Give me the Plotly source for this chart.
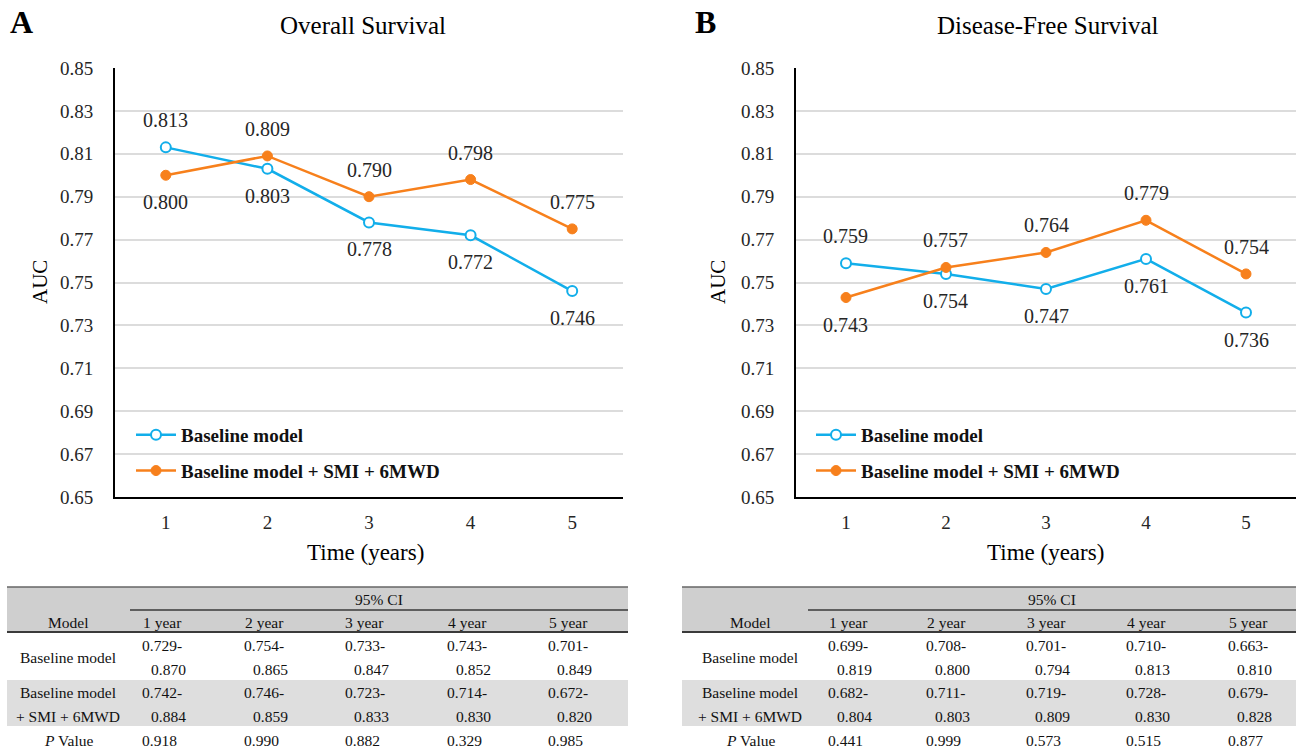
import plotly.graph_objects as go

W, H = 1296, 748
FONT = "Liberation Serif"
BLUE = "#12AEEA"
ORANGE = "#F7801C"

years = [1, 2, 3, 4, 5]
year_labels = ["1 year", "2 year", "3 year", "4 year", "5 year"]

os_base = [0.813, 0.803, 0.778, 0.772, 0.746]
os_comb = [0.800, 0.809, 0.790, 0.798, 0.775]
dfs_base = [0.759, 0.754, 0.747, 0.761, 0.736]
dfs_comb = [0.743, 0.757, 0.764, 0.779, 0.754]

# label side: +1 above, -1 below
os_base_side = [1, -1, -1, -1, -1]
os_comb_side = [-1, 1, 1, 1, 1]
dfs_base_side = [1, -1, -1, -1, -1]
dfs_comb_side = [-1, 1, 1, 1, 1]

os_base_lo = ["0.729", "0.754", "0.733", "0.743", "0.701"]
os_base_hi = ["0.870", "0.865", "0.847", "0.852", "0.849"]
os_comb_lo = ["0.742", "0.746", "0.723", "0.714", "0.672"]
os_comb_hi = ["0.884", "0.859", "0.833", "0.830", "0.820"]
os_p = ["0.918", "0.990", "0.882", "0.329", "0.985"]

dfs_base_lo = ["0.699", "0.708", "0.701", "0.710", "0.663"]
dfs_base_hi = ["0.819", "0.800", "0.794", "0.813", "0.810"]
dfs_comb_lo = ["0.682", "0.711", "0.719", "0.728", "0.679"]
dfs_comb_hi = ["0.804", "0.803", "0.809", "0.830", "0.828"]
dfs_p = ["0.441", "0.999", "0.573", "0.515", "0.877"]

y_ticks = [0.65, 0.67, 0.69, 0.71, 0.73, 0.75, 0.77, 0.79, 0.81, 0.83, 0.85]


def PX(x):
    return x / W


def PY(y):
    return 1 - y / H


fig = go.Figure()

panels = [
    dict(xa="x", ya="y", legend="legend", base=os_base, comb=os_comb,
         bside=os_base_side, cside=os_comb_side, x0=115, x1=623),
    dict(xa="x2", ya="y2", legend="legend2", base=dfs_base, comb=dfs_comb,
         bside=dfs_base_side, cside=dfs_comb_side, x0=796, x1=1296),
]

annotations = []
for i, p in enumerate(panels):
    fig.add_trace(go.Scatter(
        x=years, y=p["base"], name="Baseline model", mode="lines+markers",
        line=dict(color=BLUE, width=2.5),
        marker=dict(symbol="circle", size=10, color="white",
                    line=dict(color=BLUE, width=2)),
        xaxis=p["xa"], yaxis=p["ya"], legend=p["legend"], legendgroup="a%d" % i,
    ))
    fig.add_trace(go.Scatter(
        x=years, y=p["comb"], name="Baseline model + SMI + 6MWD", mode="lines+markers",
        line=dict(color=ORANGE, width=2.5),
        marker=dict(symbol="circle", size=10, color=ORANGE,
                    line=dict(color=ORANGE, width=1)),
        xaxis=p["xa"], yaxis=p["ya"], legend=p["legend"], legendgroup="b%d" % i,
    ))
    for vals, sides in ((p["base"], p["bside"]), (p["comb"], p["cside"])):
        for xv, yv, s in zip(years, vals, sides):
            annotations.append(dict(
                x=xv, y=yv, xref=p["xa"], yref=p["ya"], text="%.3f" % yv,
                showarrow=False, yshift=27 * s, xanchor="center", yanchor="middle",
                font=dict(family=FONT, size=20, color="#262626"),
            ))

axis_common = dict(showline=True, linecolor="black", linewidth=2, mirror=False,
                   zeroline=False, automargin=False)

for i, p in enumerate(panels):
    sfx = "" if i == 0 else "2"
    fig.update_layout(**{
        "xaxis" + sfx: dict(
            domain=[PX(p["x0"]), PX(p["x1"])], range=[0.5, 5.5],
            tickvals=years, ticktext=[str(v) for v in years],
            showgrid=False, anchor="y" + sfx,
            ticks="outside", ticklen=7, tickcolor="rgba(0,0,0,0)",
            tickfont=dict(family=FONT, size=19, color="#262626"),
            **axis_common),
        "yaxis" + sfx: dict(
            domain=[PY(497), PY(68)], range=[0.65, 0.85],
            tickvals=y_ticks, ticktext=["%.2f" % v for v in y_ticks],
            showgrid=True, gridcolor="#DCDCDC", gridwidth=2, anchor="x" + sfx,
            ticks="outside", ticklen=16, tickcolor="rgba(0,0,0,0)",
            tickfont=dict(family=FONT, size=19, color="#262626"),
            **axis_common),
    })


def ptxt(x, y, s, size, anchor="center", angle=0, color="black"):
    annotations.append(dict(x=PX(x), y=PY(y), xref="paper", yref="paper", text=s,
                            showarrow=False, xanchor=anchor, yanchor="middle",
                            textangle=angle, font=dict(family=FONT, size=size, color=color)))


# titles, axis titles, panel letters
for cx, title, letter, lx, ax_x in ((363, "Overall Survival", "A", 21, 40),
                                    (1048, "Disease-Free Survival", "B", 705, 718)):
    ptxt(cx, 25, title, 25)
    ptxt(lx, 22, "<b>%s</b>" % letter, 32)
    ptxt(ax_x, 282, "AUC", 21, angle=-90)
ptxt(366, 552, "Time (years)", 23)
ptxt(1045, 552, "Time (years)", 23)

# tables
shapes = []
tables = [
    dict(x0=7, x1=628, ci_x0=130, model_x=68, centers=[162, 264, 365, 467, 568],
         base_lo=os_base_lo, base_hi=os_base_hi, comb_lo=os_comb_lo, comb_hi=os_comb_hi, p=os_p),
    dict(x0=682, x1=1296, ci_x0=808, model_x=750, centers=[848, 946, 1046, 1146, 1248],
         base_lo=dfs_base_lo, base_hi=dfs_base_hi, comb_lo=dfs_comb_lo, comb_hi=dfs_comb_hi, p=dfs_p),
]
TS = 15.5
TC = "#111111"
for t in tables:
    def rect(y0, y1, color):
        shapes.append(dict(type="rect", xref="paper", yref="paper",
                           x0=PX(t["x0"]), x1=PX(t["x1"]), y0=PY(y1), y1=PY(y0),
                           fillcolor=color, line=dict(width=0), layer="below"))

    def hline(xa, xb, y, w=1.5, c="#3A3A3A"):
        shapes.append(dict(type="line", xref="paper", yref="paper",
                           x0=PX(xa), x1=PX(xb), y0=PY(y), y1=PY(y),
                           line=dict(color=c, width=w)))
    rect(587, 632, "#CFCFCF")
    rect(680, 726, "#DEDEDE")
    hline(t["x0"], t["x1"], 587, 1.5, "#666666")
    hline(t["ci_x0"], t["x1"], 610, 1.5)
    hline(t["x0"], t["x1"], 632, 2)

    ptxt((t["ci_x0"] + t["x1"]) / 2, 599, "95% CI", TS, color=TC)
    ptxt(t["model_x"], 622, "Model", TS, color=TC)
    ptxt(t["model_x"], 657, "Baseline model", TS, color=TC)
    ptxt(t["model_x"], 692, "Baseline model", TS, color=TC)
    ptxt(t["model_x"], 716, "+ SMI + 6MWD", TS, color=TC)
    ptxt(t["model_x"], 740, "<i>P</i> Value", TS, color=TC)
    for j, c in enumerate(t["centers"]):
        ptxt(c, 622, year_labels[j], TS, color=TC)
        ptxt(c - 22, 645, t["base_lo"][j] + "-", TS, "left", color=TC)
        ptxt(c + 26, 669, t["base_hi"][j], TS, "right", color=TC)
        ptxt(c - 22, 692, t["comb_lo"][j] + "-", TS, "left", color=TC)
        ptxt(c + 26, 716, t["comb_hi"][j], TS, "right", color=TC)
        ptxt(c - 22, 740, t["p"][j], TS, "left", color=TC)

legend_common = dict(xanchor="left", yanchor="top", bgcolor="rgba(0,0,0,0)",
                     font=dict(family=FONT, size=19, color="#111111", weight="bold"),
                     tracegroupgap=8, itemwidth=40)
fig.update_layout(
    width=W, height=H,
    margin=dict(l=0, r=0, t=0, b=0),
    paper_bgcolor="white", plot_bgcolor="white",
    showlegend=True,
    legend=dict(x=PX(131), y=PY(416), **legend_common),
    legend2=dict(x=PX(811), y=PY(416), **legend_common),
    annotations=annotations,
    shapes=shapes,
)

fig.write_html("out.html", config={"displayModeBar": False},
               post_script="document.body.style.margin='0';")
